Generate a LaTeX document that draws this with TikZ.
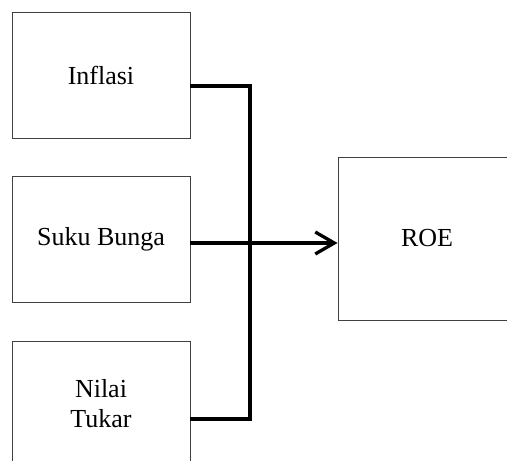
\documentclass[tikz,border=0pt]{standalone}
\usepackage{fontspec}
\setmainfont{Liberation Serif}
\usetikzlibrary{arrows.meta}
\tikzset{
	varbox/.style={draw=black!75, line width=0.9pt, minimum width=178pt, minimum height=126pt, inner sep=0pt, align=center, font=\fontsize{26}{30}\selectfont},
	link/.style={line width=3.3pt}
}

\begin{document}
\begin{tikzpicture}[x=1pt, y=-1pt]
		%%%%% START %%%%%
		\clip (0, 0) rectangle (507, 461);
		
		\node[varbox] (inflasi) at (101, 75.5) {Inflasi};
		\node[varbox] (bunga) at (101, 239) {Suku Bunga};
		\node[varbox] (tukar) at (101, 404) {Nilai\\Tukar};
		\node[varbox, minimum height=163pt] (roe) at (427, 238.5) {ROE};
		
		\coordinate (bustop) at (250, 86);
		\coordinate (busbottom) at (250, 419);
		
		\draw[link] ([yshift=-10.5pt]inflasi.east) -- (bustop) -- (busbottom) -- ([yshift=-15pt]tukar.east);
		\draw[link, -{Straight Barb[length=19pt, width=22pt]}] ([yshift=-4pt]bunga.east) -- ([yshift=-4.5pt]roe.west);
		
		%%%%% END %%%%%
	\end{tikzpicture}
\end{document}
